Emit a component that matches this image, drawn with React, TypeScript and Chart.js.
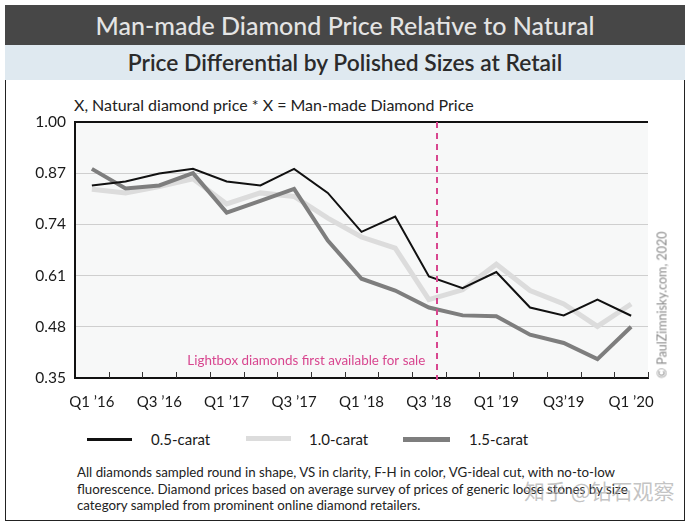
import React, { useEffect, useRef } from "react";
import { Chart, registerables } from "chart.js";

Chart.register(...registerables);

const quarters = [
  "Q1 ’16", "Q2 ’16", "Q3 ’16", "Q4 ’16",
  "Q1 ’17", "Q2 ’17", "Q3 ’17", "Q4 ’17",
  "Q1 ’18", "Q2 ’18", "Q3 ’18", "Q4 ’18",
  "Q1 ’19", "Q2 ’19", "Q3’19", "Q4 ’19",
  "Q1 ’20",
];
const halfCarat = [0.839, 0.849, 0.869, 0.881, 0.849, 0.839, 0.881, 0.82, 0.721, 0.76, 0.608, 0.578, 0.619, 0.529, 0.509, 0.549, 0.508];
const oneCarat = [0.829, 0.82, 0.836, 0.856, 0.792, 0.82, 0.811, 0.756, 0.708, 0.68, 0.549, 0.574, 0.639, 0.572, 0.538, 0.481, 0.538];
const oneHalfCarat = [0.881, 0.831, 0.839, 0.87, 0.77, 0.8, 0.83, 0.699, 0.602, 0.572, 0.529, 0.509, 0.507, 0.46, 0.439, 0.398, 0.48];
const yTicks = [0.35, 0.48, 0.61, 0.74, 0.87, 1.0];
const seriesNames = ["0.5-carat", "1.0-carat", "1.5-carat"];
const seriesColors = ["#111111", "#dcdcdc", "#7e7e7e"];
const seriesWidths = [2, 5, 4];
const launchPosition = 10.25; // just after Q3 '18
const launchLabel = "Lightbox diamonds first available for sale";

const FONT = "Lato, 'Open Sans', sans-serif";
const PINK = "#d8468f";

const overlay = {
  id: "overlay",
  beforeDraw(chart: any) {
    const { ctx, chartArea: a } = chart;
    ctx.save();
    ctx.fillStyle = "#f7f8f8";
    ctx.fillRect(a.left, a.top, a.right - a.left, a.bottom - a.top);
    ctx.restore();
  },
  afterDatasetsDraw(chart: any) {
    const { ctx, chartArea: a, scales } = chart;
    const x = scales.x;
    const step = x.getPixelForValue(1) - x.getPixelForValue(0);
    const px = x.getPixelForValue(Math.floor(launchPosition)) + (launchPosition % 1) * step;
    ctx.save();
    ctx.strokeStyle = PINK;
    ctx.lineWidth = 2;
    ctx.setLineDash([6, 5]);
    ctx.beginPath();
    ctx.moveTo(Math.round(px), a.top);
    ctx.lineTo(Math.round(px), a.bottom + 2);
    ctx.stroke();
    ctx.setLineDash([]);
    ctx.fillStyle = PINK;
    ctx.font = `13.4px ${FONT}`;
    ctx.textAlign = "right";
    ctx.textBaseline = "middle";
    ctx.fillText(launchLabel, px - 12, a.bottom - 17);
    ctx.restore();
  },
  afterDraw(chart: any) {
    const { ctx, chartArea: a } = chart;
    const n = quarters.length;
    const w = (a.right - a.left) / n;
    ctx.save();
    ctx.strokeStyle = "#333";
    ctx.lineWidth = 1;
    for (let k = 1; k <= n; k++) {
      const xx = Math.round(a.left + k * w) + 0.5;
      ctx.beginPath();
      ctx.moveTo(xx, a.bottom);
      ctx.lineTo(xx, a.bottom - 6);
      ctx.stroke();
    }
    ctx.restore();
  },
};

export default function App() {
  const ref = useRef<HTMLCanvasElement>(null);
  useEffect(() => {
    const values = [halfCarat, oneCarat, oneHalfCarat];
    const order = [0, 2, 1];
    const chart = new Chart(ref.current as HTMLCanvasElement, {
      type: "line",
      data: {
        labels: quarters,
        datasets: values.map((v, i) => ({
          label: seriesNames[i],
          data: v,
          borderColor: seriesColors[i],
          backgroundColor: seriesColors[i],
          borderWidth: seriesWidths[i],
          pointRadius: 0,
          tension: 0,
          order: order[i],
          borderJoinStyle: "miter" as const,
        })),
      },
      options: {
        responsive: false,
        animation: false,
        layout: { padding: { left: 0, right: 43, top: 42, bottom: 0 } },
        plugins: { legend: { display: false }, tooltip: { enabled: false } },
        scales: {
          x: {
            type: "category",
            offset: true,
            grid: { display: false, drawTicks: false },
            border: { display: true, color: "#111", width: 2 },
            afterFit: (s: any) => { s.height = 42; },
            ticks: {
              autoSkip: false,
              maxRotation: 0,
              padding: 15,
              color: "#1a1a1a",
              font: { family: FONT, size: 15 },
              callback: (_v: any, i: number) => (i % 2 === 0 ? quarters[i] : ""),
            },
          },
          y: {
            min: 0.35,
            max: 1.0,
            afterBuildTicks: (s: any) => { s.ticks = yTicks.map((v) => ({ value: v })); },
            afterFit: (s: any) => { s.width = 75; },
            grid: {
              drawTicks: false,
              color: (c: any) => (c.tick && c.tick.value === 1 ? "#111" : "#cfcfcf"),
              lineWidth: (c: any) => (c.tick && c.tick.value === 1 ? 2 : 1),
            },
            border: { display: true, color: "#111", width: 2 },
            ticks: {
              padding: 9,
              color: "#1a1a1a",
              font: { family: FONT, size: 15.5 },
              callback: (v: any) => Number(v).toFixed(2),
            },
          },
        },
      },
      plugins: [overlay],
    });
    return () => chart.destroy();
  }, []);

  const legendX = [[87, 132, 151], [246, 291, 309], [403, 450, 469]];

  return (
    <div style={{ position: "absolute", left: 0, top: 0, width: 691, height: 527, background: "#fff", fontFamily: FONT, overflow: "hidden" }}>
      <div style={{ position: "absolute", left: 5, top: 5, width: 680, height: 516, border: "1.5px solid #222", boxSizing: "border-box" }} />
      <div style={{ position: "absolute", left: 5, top: 5, width: 680, height: 40, background: "#474747", color: "#e4e4e4", fontSize: 25, fontWeight: 500, textAlign: "center", lineHeight: "40px", whiteSpace: "nowrap" }}>
        Man-made Diamond Price Relative to Natural
      </div>
      <div style={{ position: "absolute", left: 5, top: 45, width: 680, height: 35, background: "#dfe9f0", color: "#2b2b2b", fontSize: 22.8, fontWeight: 600, textAlign: "center", lineHeight: "35px", whiteSpace: "nowrap" }}>
        Price Differential by Polished Sizes at Retail
      </div>
      <div style={{ position: "absolute", left: 74, top: 95, fontSize: 16, color: "#222", whiteSpace: "nowrap" }}>
        X, Natural diamond price * X = Man-made Diamond Price
      </div>
      <canvas ref={ref} width={691} height={340} style={{ position: "absolute", left: 0, top: 80, width: 691, height: 340 }} />
      <div style={{ position: "absolute", left: 662, top: 305, transform: "translate(-50%, -50%) rotate(-90deg)", fontSize: 12.5, color: "#8a8a8a", whiteSpace: "nowrap" }}>
        © PaulZimnisky.com, 2020
      </div>
      {seriesNames.map((name, i) => (
        <React.Fragment key={name}>
          <div style={{ position: "absolute", left: legendX[i][0], top: 439 - seriesWidths[i] / 2 - 0.5, width: legendX[i][1] - legendX[i][0], height: i === 0 ? 3 : 5, background: seriesColors[i] }} />
          <div style={{ position: "absolute", left: legendX[i][2], top: 429, fontSize: 15, color: "#1a1a1a", lineHeight: "20px", whiteSpace: "nowrap" }}>{name}</div>
        </React.Fragment>
      ))}
      <div style={{ position: "absolute", left: 77, top: 464, fontSize: 13.3, lineHeight: "16.5px", color: "#222", whiteSpace: "nowrap" }}>
        All diamonds sampled round in shape, VS in clarity, F-H in color, VG-ideal cut, with no-to-low<br />
        fluorescence. Diamond prices based on average survey of prices of generic loose stones by size<br />
        category sampled from prominent online diamond retailers.
      </div>
      <div style={{ position: "absolute", left: 524, top: 475, fontSize: 21, color: "rgba(170,170,170,0.7)", fontFamily: "'Noto Sans CJK SC', sans-serif", whiteSpace: "nowrap" }}>
        知乎 @钻石观察
      </div>
    </div>
  );
}
